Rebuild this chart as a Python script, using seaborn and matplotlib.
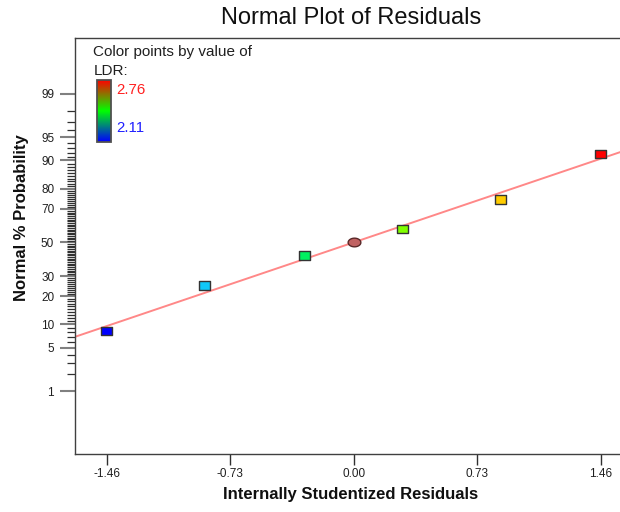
import numpy as np
import pandas as pd
import matplotlib
matplotlib.use("Agg")
import matplotlib.pyplot as plt
import matplotlib.path as mpath
from matplotlib.colors import LinearSegmentedColormap, Normalize
from matplotlib.cm import ScalarMappable
import seaborn as sns
from statistics import NormalDist

# ---- data ----
residuals = [-1.46, -0.88, -0.29, 0.00, 0.29, 0.87, 1.46]
normal_pct = [8.33, 25.0, 41.67, 50.0, 58.33, 75.0, 91.67]
point_shape = ["rect", "rect", "rect", "ellipse", "rect", "rect", "rect"]
point_colors = ["#0000FF", "#10C8F8", "#00F060", "#C06262", "#80FF00", "#FFCC00", "#FF0000"]
x_ticks = [-1.46, -0.73, 0.00, 0.73, 1.46]
x_tick_labels = ["-1.46", "-0.73", "0.00", "0.73", "1.46"]
y_major_pct = [1, 5, 10, 20, 30, 50, 70, 80, 90, 95, 99]
y_minor_pct = [p for p in range(2, 99) if p not in y_major_pct]
ldr_min, ldr_max = 2.11, 2.76

sns.set_theme(style="white")
plt.rcParams["font.family"] = ["Liberation Sans", "DejaVu Sans"]

nd = NormalDist()
def pz(p):
    return nd.inv_cdf(p / 100.0)

df = pd.DataFrame({
    "res": residuals,
    "z": [pz(p) for p in normal_pct],
    "shape": point_shape,
    "id": [str(i) for i in range(len(residuals))],
})
palette = dict(zip(df["id"], point_colors))

W, H = 620, 512
fig = plt.figure(figsize=(W / 100, H / 100), dpi=100)
ax_l, ax_r, ax_t, ax_b = 75, 632.4, 38, 454
ax = fig.add_axes([ax_l / W, 1 - ax_b / H, (ax_r - ax_l) / W, (ax_b - ax_t) / H])
ax.set_xlim(-1.647, 1.647)
ax.set_ylim(-3.305, 3.195)

# fit line (least squares through the points)
slope, intercept = np.polyfit(df["res"], df["z"], 1)
xs = np.array(ax.get_xlim())
sns.lineplot(x=xs, y=slope * xs + intercept, ax=ax, color="#FF8888", linewidth=1.4, zorder=2)

rect = mpath.Path([(-1, -0.8), (1, -0.8), (1, 0.8), (-1, 0.8), (-1, -0.8)],
                  [1, 2, 2, 2, 79])
th = np.linspace(0, 2 * np.pi, 60)
ell = mpath.Path(np.column_stack([np.cos(th), 0.68 * np.sin(th)]))

d_r = df[df["shape"] == "rect"]
d_e = df[df["shape"] == "ellipse"]
sns.scatterplot(data=d_r, x="res", y="z", hue="id", palette=palette, legend=False,
                marker=rect, s=64, edgecolor="#333333", linewidth=1.0, ax=ax, zorder=3)
sns.scatterplot(data=d_e, x="res", y="z", hue="id", palette=palette, legend=False,
                marker=ell, s=84, edgecolor="#5a2828", linewidth=1.0, ax=ax, zorder=3)

# axes styling
for side in ["left", "bottom", "top"]:
    ax.spines[side].set_visible(True)
    ax.spines[side].set_color("#404040")
    ax.spines[side].set_linewidth(1.0)
ax.spines["right"].set_visible(False)

ax.set_xticks(x_ticks)
ax.set_xticklabels(x_tick_labels)
ax.set_yticks([pz(p) for p in y_major_pct])
ax.set_yticklabels([str(p) for p in y_major_pct])
ax.set_yticks([pz(p) for p in y_minor_pct], minor=True)
ax.tick_params(axis="x", which="major", direction="out", length=8, width=1.0,
               color="#303030", labelsize=8.5, pad=2, labelcolor="#202020", bottom=True)
ax.tick_params(axis="y", which="major", direction="out", length=11, width=1.5,
               color="#808080", labelsize=8.5, pad=4, labelcolor="#202020", left=True)
ax.tick_params(axis="y", which="minor", direction="out", length=6, width=0.9,
               color="#303030", left=True)

ax.set_xlabel("Internally Studentized Residuals", fontsize=12, fontweight="bold", color="#101010")
ax.xaxis.set_label_coords((350.5 - ax_l) / (ax_r - ax_l), -(495 - ax_b) / (ax_b - ax_t))
ax.xaxis.label.set_va("center")
ax.set_ylabel("Normal % Probability", fontsize=12, fontweight="bold", color="#101010", va="center")
ax.yaxis.set_label_coords((22 - ax_l) / (ax_r - ax_l), (ax_b - 218) / (ax_b - ax_t))

fig.text(351 / W, 1 - 18 / H, "Normal Plot of Residuals", ha="center", va="center",
         fontsize=17, color="#101010")

# color legend
fig.text(93.3 / W, 1 - 51.7 / H, "Color points by value of", ha="left", va="center",
         fontsize=11, color="#202020")
fig.text(93.3 / W, 1 - 70.7 / H, "LDR:", ha="left", va="center", fontsize=11, color="#202020")
cax = fig.add_axes([97.3 / W, 1 - 141.7 / H, 14 / W, 61.7 / H])
cmap = LinearSegmentedColormap.from_list("ldr", ["#0000FF", "#00FF00", "#FF0000"])
cb = fig.colorbar(ScalarMappable(norm=Normalize(ldr_min, ldr_max), cmap=cmap), cax=cax)
cb.set_ticks([])
cb.outline.set_edgecolor("#505050")
cb.outline.set_linewidth(1.3)
fig.text(116.7 / W, 1 - 90 / H, f"{ldr_max:.2f}", ha="left", va="center", fontsize=10.8, color="#FF2020")
fig.text(116.7 / W, 1 - 128.3 / H, f"{ldr_min:.2f}", ha="left", va="center", fontsize=10.8, color="#2020FF")

fig.savefig("out.png", dpi=100)
